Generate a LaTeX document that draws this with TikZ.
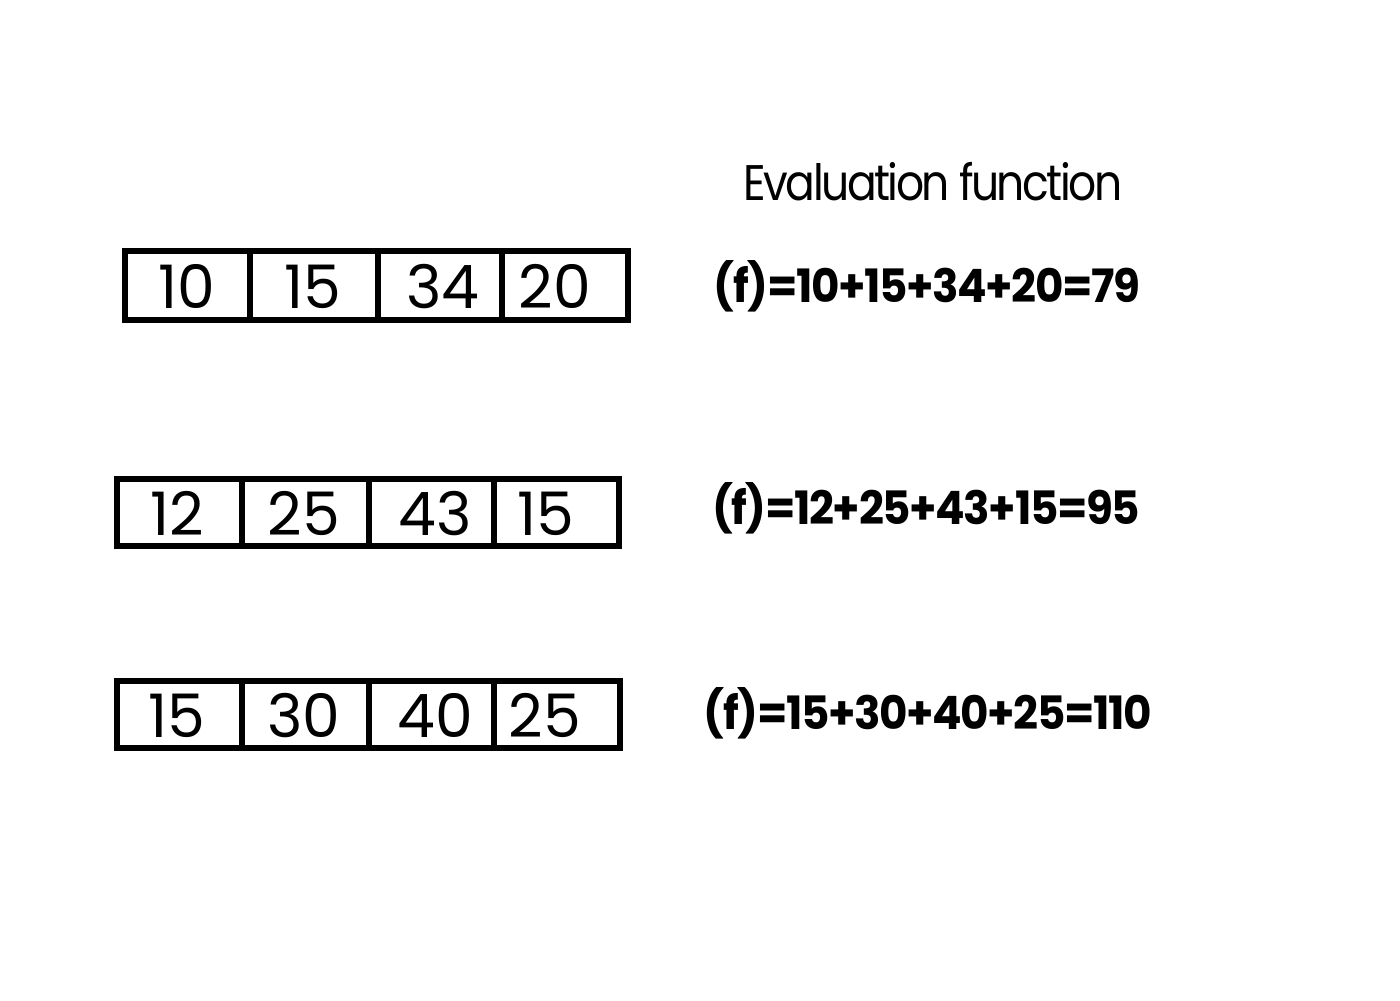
\documentclass[tikz,border=0pt]{standalone}
\usepackage{fontspec}
\setmainfont{Poppins}
\newfontfamily\titlefont[FakeStretch=0.88,LetterSpace=-5]{Poppins}
\newfontfamily\formfont[FakeStretch=0.95,LetterSpace=-3]{Poppins}
\begin{document}
\begin{tikzpicture}[x=0.5pt,y=-0.5pt,
  cell/.style={draw=black,line width=3pt,inner sep=0pt},
  num/.style={anchor=base,inner sep=0pt,font=\fontsize{30}{30}\selectfont},
  formula/.style={anchor=base,inner sep=0pt,font=\formfont\bfseries\fontsize{23}{23}\selectfont},
  title/.style={anchor=base,inner sep=0pt,font=\titlefont\fontsize{25}{25}\selectfont}]
\useasboundingbox (0,0) rectangle (1400,1000);
% title
\node[title] (title) at (933,200) {Evaluation function};
% row 1
\foreach \i/\a/\b in {1/125/250,2/250/378,3/378/502,4/502/628}{
  \draw[cell] (\a,251) rectangle (\b,320);
}
\node[num] (r1a) at (187,308) {10};
\node[num] (r1b) at (313,308) {15};
\node[num] (r1c) at (443,308) {34};
\node[num] (r1d) at (555,308) {20};
\node[formula] (f1) at (927,302) {(f)=10+15+34+20=79};
% row 2
\foreach \i/\a/\b in {1/117/242,2/242/369,3/369/494,4/494/619}{
  \draw[cell] (\a,479) rectangle (\b,546);
}
\node[num] (r2a) at (177,535) {12};
\node[num] (r2b) at (304,535) {25};
\node[num] (r2c) at (435,535) {43};
\node[num] (r2d) at (546,535) {15};
\node[formula] (f2) at (926,524) {(f)=12+25+43+15=95};
% row 3
\foreach \i/\a/\b in {1/117/242,2/242/369,3/369/494,4/494/620}{
  \draw[cell] (\a,681) rectangle (\b,748);
}
\node[num] (r3a) at (177,737) {15};
\node[num] (r3b) at (304,737) {30};
\node[num] (r3c) at (435,737) {40};
\node[num] (r3d) at (545,737) {25};
\node[formula] (f3) at (928,729) {(f)=15+30+40+25=110};
\end{tikzpicture}
\end{document}
